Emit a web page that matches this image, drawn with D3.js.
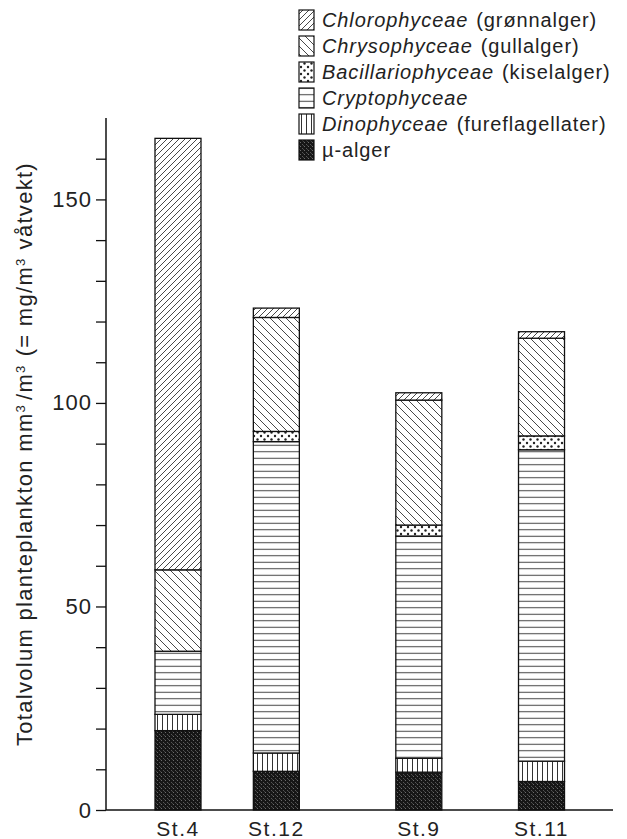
<!DOCTYPE html>
<html>
<head>
<meta charset="utf-8">
<script src="https://cdn.jsdelivr.net/npm/d3@7"></script>
<style>
  body { margin: 0; background: #fff; }
  svg { display: block; font-family: "Liberation Sans", Arial, sans-serif; }
</style>
</head>
<body>
<div id="chart"></div>
<script>
// Data (mm3/m3)
const stations = ["St.4", "St.12", "St.9", "St.11"];
const groups = ["mu", "dino", "crypto", "bacill", "chryso", "chloro"];
const muAlger = [19.5, 9.5, 9.3, 7.0];
const dinophyceae = [4.0, 4.5, 3.4, 5.0];
const cryptophyceae = [15.5, 76.5, 54.6, 76.5];
const bacillariophyceae = [0, 2.5, 2.7, 3.4];
const chrysophyceae = [20.0, 28.0, 30.7, 24.0];
const chlorophyceae = [106.0, 2.3, 1.8, 1.6];
const yTicks = [0, 50, 100, 150];

// legend entries, top to bottom: [italic name, plain suffix, group key]
const legendItems = [
    ["Chlorophyceae", "(grønnalger)", "chloro"],
    ["Chrysophyceae", "(gullalger)", "chryso"],
    ["Bacillariophyceae", "(kiselalger)", "bacill"],
    ["Cryptophyceae", "", "crypto"],
    ["Dinophyceae", "(fureflagellater)", "dino"],
    ["", "µ-alger", "mu"]
];

const rows = stations.map((s, i) => ({
    station: s,
    mu: muAlger[i],
    dino: dinophyceae[i],
    crypto: cryptophyceae[i],
    bacill: bacillariophyceae[i],
    chryso: chrysophyceae[i],
    chloro: chlorophyceae[i]
}));

const W = 627, H = 839;
const margin = { left: 106, right: 14, top: 118, bottom: 29 };
const plotW = W - margin.left - margin.right;

const svg = d3.select("#chart").append("svg")
    .attr("width", W).attr("height", H);

// Patterns
const defs = svg.append("defs");
function linePattern(id, size, draw) {
    const p = defs.append("pattern")
        .attr("id", id)
        .attr("patternUnits", "userSpaceOnUse")
        .attr("width", size).attr("height", size);
    p.append("rect").attr("width", size).attr("height", size).attr("fill", "#fff");
    draw(p, size);
}
linePattern("p-chloro", 6, (p, s) => {
    p.append("path").attr("d", `M0,${s} L${s},0 M${-s / 2},${s / 2} L${s / 2},${-s / 2} M${s / 2},${s * 1.5} L${s * 1.5},${s / 2}`)
        .attr("stroke", "#333").attr("stroke-width", 0.9);
});
linePattern("p-chryso", 8, (p, s) => {
    p.append("path").attr("d", `M0,0 L${s},${s} M${-s / 2},${s / 2} L${s / 2},${s * 1.5} M${s / 2},${-s / 2} L${s * 1.5},${s / 2}`)
        .attr("stroke", "#333").attr("stroke-width", 0.9);
});
linePattern("p-crypto", 6.5, (p, s) => {
    p.append("path").attr("d", `M0,${s / 2} L${s},${s / 2}`)
        .attr("stroke", "#444").attr("stroke-width", 1);
});
linePattern("p-dino", 5, (p, s) => {
    p.append("path").attr("d", `M${s / 2},0 L${s / 2},${s}`)
        .attr("stroke", "#333").attr("stroke-width", 1);
});
linePattern("p-bacill", 7, (p, s) => {
    p.append("circle").attr("cx", 2).attr("cy", 2).attr("r", 1.2).attr("fill", "#222");
    p.append("circle").attr("cx", 5.5).attr("cy", 5.5).attr("r", 1.2).attr("fill", "#222");
});
linePattern("p-mu", 4, (p, s) => {
    p.select("rect").attr("fill", "#161616");
    p.append("rect").attr("x", 1).attr("y", 0).attr("width", 1).attr("height", 1).attr("fill", "#6a6a6a");
    p.append("rect").attr("x", 3).attr("y", 2).attr("width", 1).attr("height", 1).attr("fill", "#555");
    p.append("rect").attr("x", 0).attr("y", 3).attr("width", 1).attr("height", 1).attr("fill", "#444");
});

// Scales
const y = d3.scaleLinear().domain([0, 170]).range([H - margin.bottom, margin.top]);
// stations are not evenly spaced in the original figure
const x = d3.scaleOrdinal().domain(stations)
    .range([0.142, 0.336, 0.617, 0.859].map(f => margin.left + f * plotW));
const barW = 46;

const stack = d3.stack().keys(groups)(rows);

const g = svg.append("g");
stack.forEach(layer => {
    g.selectAll(null).data(layer).join("rect")
        .attr("x", d => x(d.data.station) - barW / 2)
        .attr("y", d => y(d[1]))
        .attr("width", barW)
        .attr("height", d => y(d[0]) - y(d[1]))
        .attr("fill", `url(#p-${layer.key})`)
        .attr("stroke", "#111")
        .attr("stroke-width", 1.3);
});

// Y axis
const yAxis = d3.axisLeft(y).tickValues(d3.range(0, 161, 10))
    .tickSize(10).tickPadding(4)
    .tickFormat(d => yTicks.includes(d) ? d : "");
const ya = svg.append("g").attr("transform", `translate(${margin.left},0)`).call(yAxis);
ya.select(".domain").attr("d", `M0,${y(0)}V${y(170)}`).attr("stroke", "#111").attr("stroke-width", 1.5);
ya.selectAll(".tick line").attr("stroke", "#111").attr("stroke-width", 1.3);
ya.selectAll(".tick text").attr("font-size", 22).attr("letter-spacing", 1).attr("fill", "#222")
    .attr("font-family", "Liberation Sans, Arial, sans-serif");

// X axis baseline and labels
svg.append("line")
    .attr("x1", margin.left).attr("x2", W - margin.right)
    .attr("y1", y(0)).attr("y2", y(0))
    .attr("stroke", "#111").attr("stroke-width", 1.5);
svg.selectAll(".xlab").data(stations).join("text")
    .attr("class", "xlab")
    .attr("x", d => x(d))
    .attr("y", H - 3)
    .attr("text-anchor", "middle")
    .attr("font-size", 21)
    .attr("letter-spacing", 1.5)
    .attr("fill", "#222")
    .text(d => d);

// Y label
const yl = svg.append("text")
    .attr("transform", `translate(32,${454}) rotate(-90)`)
    .attr("text-anchor", "middle")
    .attr("font-size", 22)
    .attr("letter-spacing", 1.3)
    .attr("fill", "#222");
yl.append("tspan").text("Totalvolum planteplankton mm");
yl.append("tspan").attr("baseline-shift", "super").attr("font-size", 13).text("3");
yl.append("tspan").attr("dx", 4).text("/m");
yl.append("tspan").attr("baseline-shift", "super").attr("font-size", 13).text("3");
yl.append("tspan").attr("dx", 8).text("(= mg/m");
yl.append("tspan").attr("baseline-shift", "super").attr("font-size", 13).text("3");
yl.append("tspan").attr("dx", 8).text("våtvekt)");

// Legend
const lg = svg.append("g").attr("transform", "translate(299,20)");
legendItems.forEach((it, i) => {
    const row = lg.append("g").attr("transform", `translate(0,${i * 26})`);
    row.append("rect")
        .attr("x", 0).attr("y", -10)
        .attr("width", 15).attr("height", 20)
        .attr("fill", `url(#p-${it[2]})`)
        .attr("stroke", "#111").attr("stroke-width", 1.2);
    const t = row.append("text")
        .attr("x", 23).attr("y", 7)
        .attr("font-size", 20)
        .attr("letter-spacing", 0.9)
        .attr("fill", "#222");
    if (it[0]) t.append("tspan").attr("font-style", "italic").text(it[0]);
    if (it[1]) t.append("tspan").attr("dx", it[0] ? 8 : 0).text(it[1]);
});
</script>
</body>
</html>
